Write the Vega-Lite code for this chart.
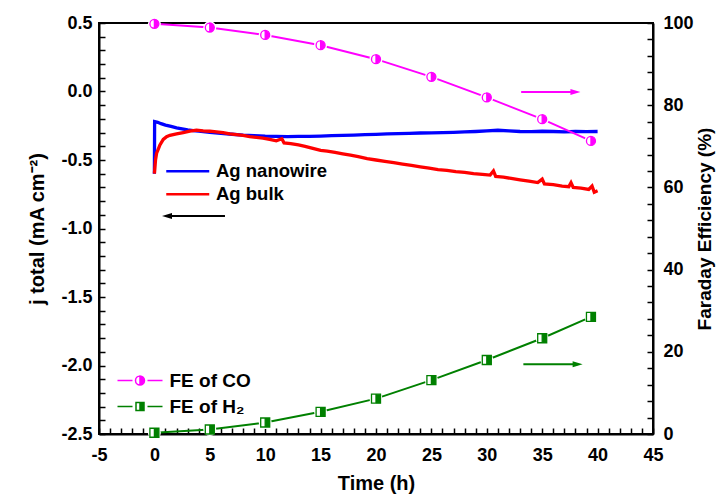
{
  "$schema": "https://vega.github.io/schema/vega-lite/v6.json",
  "width": 554,
  "height": 411,
  "autosize": "none",
  "padding": {"left": 99, "top": 23, "right": 63, "bottom": 62},
  "background": "white",
  "datasets": {
    "current": [
      {"t": 0, "j": -0.6, "series": "Ag nanowire"},
      {"t": 0.02, "j": -0.22, "series": "Ag nanowire"},
      {"t": 0.3, "j": -0.225, "series": "Ag nanowire"},
      {"t": 0.6, "j": -0.235, "series": "Ag nanowire"},
      {"t": 1, "j": -0.245, "series": "Ag nanowire"},
      {"t": 1.5, "j": -0.255, "series": "Ag nanowire"},
      {"t": 2, "j": -0.265, "series": "Ag nanowire"},
      {"t": 2.5, "j": -0.272, "series": "Ag nanowire"},
      {"t": 3, "j": -0.28, "series": "Ag nanowire"},
      {"t": 3.5, "j": -0.285, "series": "Ag nanowire"},
      {"t": 4, "j": -0.29, "series": "Ag nanowire"},
      {"t": 5, "j": -0.298, "series": "Ag nanowire"},
      {"t": 6, "j": -0.305, "series": "Ag nanowire"},
      {"t": 7, "j": -0.312, "series": "Ag nanowire"},
      {"t": 8, "j": -0.318, "series": "Ag nanowire"},
      {"t": 9, "j": -0.322, "series": "Ag nanowire"},
      {"t": 10, "j": -0.326, "series": "Ag nanowire"},
      {"t": 11, "j": -0.328, "series": "Ag nanowire"},
      {"t": 12, "j": -0.33, "series": "Ag nanowire"},
      {"t": 13, "j": -0.328, "series": "Ag nanowire"},
      {"t": 14, "j": -0.327, "series": "Ag nanowire"},
      {"t": 15, "j": -0.325, "series": "Ag nanowire"},
      {"t": 16, "j": -0.322, "series": "Ag nanowire"},
      {"t": 17, "j": -0.32, "series": "Ag nanowire"},
      {"t": 18, "j": -0.318, "series": "Ag nanowire"},
      {"t": 19, "j": -0.315, "series": "Ag nanowire"},
      {"t": 20, "j": -0.313, "series": "Ag nanowire"},
      {"t": 21, "j": -0.31, "series": "Ag nanowire"},
      {"t": 22, "j": -0.308, "series": "Ag nanowire"},
      {"t": 23, "j": -0.305, "series": "Ag nanowire"},
      {"t": 24, "j": -0.303, "series": "Ag nanowire"},
      {"t": 25, "j": -0.302, "series": "Ag nanowire"},
      {"t": 26, "j": -0.3, "series": "Ag nanowire"},
      {"t": 27, "j": -0.298, "series": "Ag nanowire"},
      {"t": 28, "j": -0.295, "series": "Ag nanowire"},
      {"t": 29, "j": -0.292, "series": "Ag nanowire"},
      {"t": 30, "j": -0.288, "series": "Ag nanowire"},
      {"t": 31, "j": -0.283, "series": "Ag nanowire"},
      {"t": 32, "j": -0.287, "series": "Ag nanowire"},
      {"t": 33, "j": -0.292, "series": "Ag nanowire"},
      {"t": 34, "j": -0.293, "series": "Ag nanowire"},
      {"t": 35, "j": -0.29, "series": "Ag nanowire"},
      {"t": 36, "j": -0.292, "series": "Ag nanowire"},
      {"t": 37, "j": -0.294, "series": "Ag nanowire"},
      {"t": 38, "j": -0.292, "series": "Ag nanowire"},
      {"t": 39, "j": -0.293, "series": "Ag nanowire"},
      {"t": 40, "j": -0.292, "series": "Ag nanowire"},
      {"t": 0, "j": -0.6, "series": "Ag bulk"},
      {"t": 0.1, "j": -0.5, "series": "Ag bulk"},
      {"t": 0.2, "j": -0.45, "series": "Ag bulk"},
      {"t": 0.35, "j": -0.42, "series": "Ag bulk"},
      {"t": 0.5, "j": -0.39, "series": "Ag bulk"},
      {"t": 0.8, "j": -0.35, "series": "Ag bulk"},
      {"t": 1.1, "j": -0.33, "series": "Ag bulk"},
      {"t": 1.4, "j": -0.32, "series": "Ag bulk"},
      {"t": 2, "j": -0.31, "series": "Ag bulk"},
      {"t": 2.6, "j": -0.3, "series": "Ag bulk"},
      {"t": 3.2, "j": -0.29, "series": "Ag bulk"},
      {"t": 3.8, "j": -0.282, "series": "Ag bulk"},
      {"t": 4.4, "j": -0.288, "series": "Ag bulk"},
      {"t": 5, "j": -0.29, "series": "Ag bulk"},
      {"t": 5.6, "j": -0.295, "series": "Ag bulk"},
      {"t": 6.2, "j": -0.3, "series": "Ag bulk"},
      {"t": 6.8, "j": -0.31, "series": "Ag bulk"},
      {"t": 7.4, "j": -0.315, "series": "Ag bulk"},
      {"t": 8, "j": -0.32, "series": "Ag bulk"},
      {"t": 8.6, "j": -0.33, "series": "Ag bulk"},
      {"t": 9.2, "j": -0.335, "series": "Ag bulk"},
      {"t": 9.8, "j": -0.34, "series": "Ag bulk"},
      {"t": 10.4, "j": -0.35, "series": "Ag bulk"},
      {"t": 11, "j": -0.36, "series": "Ag bulk"},
      {"t": 11.5, "j": -0.345, "series": "Ag bulk"},
      {"t": 11.7, "j": -0.375, "series": "Ag bulk"},
      {"t": 12.3, "j": -0.38, "series": "Ag bulk"},
      {"t": 13, "j": -0.39, "series": "Ag bulk"},
      {"t": 13.6, "j": -0.4, "series": "Ag bulk"},
      {"t": 14.3, "j": -0.415, "series": "Ag bulk"},
      {"t": 15, "j": -0.43, "series": "Ag bulk"},
      {"t": 15.6, "j": -0.435, "series": "Ag bulk"},
      {"t": 16.3, "j": -0.445, "series": "Ag bulk"},
      {"t": 17, "j": -0.455, "series": "Ag bulk"},
      {"t": 17.7, "j": -0.465, "series": "Ag bulk"},
      {"t": 18.4, "j": -0.475, "series": "Ag bulk"},
      {"t": 19.2, "j": -0.49, "series": "Ag bulk"},
      {"t": 20, "j": -0.5, "series": "Ag bulk"},
      {"t": 20.8, "j": -0.51, "series": "Ag bulk"},
      {"t": 21.6, "j": -0.52, "series": "Ag bulk"},
      {"t": 22.4, "j": -0.53, "series": "Ag bulk"},
      {"t": 23.2, "j": -0.54, "series": "Ag bulk"},
      {"t": 24, "j": -0.55, "series": "Ag bulk"},
      {"t": 24.8, "j": -0.56, "series": "Ag bulk"},
      {"t": 25.6, "j": -0.57, "series": "Ag bulk"},
      {"t": 26.4, "j": -0.575, "series": "Ag bulk"},
      {"t": 27.2, "j": -0.585, "series": "Ag bulk"},
      {"t": 28, "j": -0.59, "series": "Ag bulk"},
      {"t": 28.8, "j": -0.6, "series": "Ag bulk"},
      {"t": 29.6, "j": -0.605, "series": "Ag bulk"},
      {"t": 30.3, "j": -0.61, "series": "Ag bulk"},
      {"t": 30.6, "j": -0.58, "series": "Ag bulk"},
      {"t": 30.8, "j": -0.62, "series": "Ag bulk"},
      {"t": 31.5, "j": -0.625, "series": "Ag bulk"},
      {"t": 32.2, "j": -0.635, "series": "Ag bulk"},
      {"t": 33, "j": -0.645, "series": "Ag bulk"},
      {"t": 33.8, "j": -0.655, "series": "Ag bulk"},
      {"t": 34.6, "j": -0.665, "series": "Ag bulk"},
      {"t": 35, "j": -0.64, "series": "Ag bulk"},
      {"t": 35.2, "j": -0.675, "series": "Ag bulk"},
      {"t": 36, "j": -0.68, "series": "Ag bulk"},
      {"t": 36.8, "j": -0.69, "series": "Ag bulk"},
      {"t": 37.4, "j": -0.695, "series": "Ag bulk"},
      {"t": 37.6, "j": -0.665, "series": "Ag bulk"},
      {"t": 37.8, "j": -0.7, "series": "Ag bulk"},
      {"t": 38.5, "j": -0.705, "series": "Ag bulk"},
      {"t": 39.2, "j": -0.715, "series": "Ag bulk"},
      {"t": 39.5, "j": -0.69, "series": "Ag bulk"},
      {"t": 39.7, "j": -0.735, "series": "Ag bulk"},
      {"t": 40, "j": -0.725, "series": "Ag bulk"}
    ],
    "fe": [
      {"t": 0, "fe": 99.8, "series": "FE of CO"},
      {"t": 5, "fe": 98.9, "series": "FE of CO"},
      {"t": 10, "fe": 97.1, "series": "FE of CO"},
      {"t": 15, "fe": 94.6, "series": "FE of CO"},
      {"t": 20, "fe": 91.2, "series": "FE of CO"},
      {"t": 25, "fe": 86.9, "series": "FE of CO"},
      {"t": 30, "fe": 81.9, "series": "FE of CO"},
      {"t": 35, "fe": 76.6, "series": "FE of CO"},
      {"t": 39.4, "fe": 71.3, "series": "FE of CO"},
      {"t": 0, "fe": 0.3, "series": "FE of H₂"},
      {"t": 5, "fe": 1.1, "series": "FE of H₂"},
      {"t": 10, "fe": 2.8, "series": "FE of H₂"},
      {"t": 15, "fe": 5.4, "series": "FE of H₂"},
      {"t": 20, "fe": 8.6, "series": "FE of H₂"},
      {"t": 25, "fe": 13.1, "series": "FE of H₂"},
      {"t": 30, "fe": 18.0, "series": "FE of H₂"},
      {"t": 35, "fe": 23.3, "series": "FE of H₂"},
      {"t": 39.4, "fe": 28.5, "series": "FE of H₂"}
    ],
    "arrowJ": [{"t": 1.1, "t2": 6.37, "j": -0.909}],
    "headJ": [{"t": 1.14, "j": -0.909}],
    "arrowFE": [
      {"t": 33.1, "t2": 38.0, "fe": 83.2, "series": "FE of CO"},
      {"t": 33.3, "t2": 38.2, "fe": 17.0, "series": "FE of H₂"}
    ],
    "headFE": [
      {"t": 38.0, "fe": 83.2, "series": "FE of CO"},
      {"t": 38.2, "fe": 17.0, "series": "FE of H₂"}
    ]
  },
  "encoding": {
    "x": {
      "field": "t",
      "type": "quantitative",
      "scale": {"domain": [-5, 45], "nice": false, "zero": false},
      "axis": {
        "title": "Time (h)",
        "values": [-5,-4,-3,-2,-1,0,1,2,3,4,5,6,7,8,9,10,11,12,13,14,15,16,17,18,19,20,21,22,23,24,25,26,27,28,29,30,31,32,33,34,35,36,37,38,39,40,41,42,43,44,45],
        "tickCount": 200,
        "format": "d",
        "tickSize": -6,
        "labelExpr": "datum.value % 5 == 0 ? replace(datum.label, '−', '-') : ''",
        "labelFontSize": {"condition": {"test": "datum.value % 5 == 0", "value": 18}, "value": 0},
        "labelPadding": 18,
        "labelFlush": false,
        "labelOverlap": false,
        "titleFontSize": 20,
        "titlePadding": 9
      }
    }
  },
  "layer": [
    {
      "layer": [
        {
          "data": {"name": "current"},
          "mark": {"type": "line", "strokeWidth": 3.3},
          "encoding": {
            "y": {
              "field": "j",
              "type": "quantitative",
              "scale": {"domain": [-2.5, 0.5], "nice": false, "zero": false},
              "axis": {
                "title": "j total (mA cm⁻²)",
                "titleFontSize": 20,
                "values": [-2.5,-2.4,-2.3,-2.2,-2.1,-2.0,-1.9,-1.8,-1.7,-1.6,-1.5,-1.4,-1.3,-1.2,-1.1,-1.0,-0.9,-0.8,-0.7,-0.6,-0.5,-0.4,-0.3,-0.2,-0.1,0,0.1,0.2,0.3,0.4,0.5],
                "tickCount": 200,
                "format": ".1f",
                "tickSize": -6,
                "labelExpr": "abs(round(datum.value * 10)) % 5 == 0 ? replace(datum.label, '−', '-') : ''",
                "labelFontSize": {"condition": {"test": "abs(round(datum.value * 10)) % 5 == 0", "value": 18}, "value": 0},
                "labelPadding": 13,
                "labelFlush": false,
                "labelOverlap": false,
                "titlePadding": 13
              }
            },
            "color": {
              "field": "series",
              "type": "nominal",
              "scale": {"domain": ["Ag nanowire", "Ag bulk"], "range": ["#0000ff", "#ff0000"]},
              "legend": {
                "orient": "none",
                "legendX": 79.5,
                "legendY": 139,
                "title": null,
                "symbolType": "M-4.3,0H4.3",
                "symbolSize": 100,
                "symbolStrokeWidth": 2.5,
                "labelFontSize": 18.5,
                "labelFont": "Liberation Sans",
                "labelFontWeight": "bold",
                "labelColor": "black",
                "labelOffset": 19,
                "rowPadding": 4
              }
            }
          }
        },
        {
          "data": {"name": "arrowJ"},
          "mark": {"type": "rule", "color": "black", "strokeWidth": 2},
          "encoding": {
            "x2": {"field": "t2"},
            "y": {"field": "j", "type": "quantitative"}
          }
        },
        {
          "data": {"name": "headJ"},
          "mark": {"type": "point", "shape": "M-1,0L1,-0.6L1,0.6Z", "size": 100, "filled": true, "color": "black", "opacity": 1},
          "encoding": {
            "y": {"field": "j", "type": "quantitative"}
          }
        }
      ]
    },
    {
      "layer": [
        {
          "data": {"name": "fe"},
          "mark": {"type": "line", "strokeWidth": 2},
          "encoding": {
            "y": {
              "field": "fe",
              "type": "quantitative",
              "scale": {"domain": [0, 100], "nice": false},
              "axis": {
                "orient": "right",
                "title": "Faraday Efficiency (%)",
                "titleAngle": 270,
                "titleBaseline": "top",
                "titleFontSize": 19,
                "values": [0,4,8,12,16,20,24,28,32,36,40,44,48,52,56,60,64,68,72,76,80,84,88,92,96,100],
                "tickCount": 200,
                "format": "d",
                "tickSize": -6,
                "labelExpr": "datum.value % 20 == 0 ? datum.label : ''",
                "labelFontSize": {"condition": {"test": "datum.value % 20 == 0", "value": 18}, "value": 0},
                "labelPadding": 16,
                "labelFlush": false,
                "labelOverlap": false,
                "titlePadding": 2
              }
            },
            "color": {
              "field": "series",
              "type": "nominal",
              "scale": {"domain": ["FE of CO", "FE of H₂"], "range": ["#ff00ff", "#008000"]},
              "legend": {
                "orient": "none",
                "legendX": 31.5,
                "legendY": 348,
                "title": null,
                "symbolSize": 100,
                "symbolStrokeWidth": 1.5,
                "labelFontSize": 19,
                "labelFont": "Liberation Sans",
                "labelFontWeight": "bold",
                "labelColor": "black",
                "labelOffset": 20,
                "rowPadding": 6,
                "encode": {
                  "symbols": {
                    "update": {
                      "shape": {"signal": "datum.value == 'FE of CO' ? 'M-4.5,0H-1.5M1.5,0H4.5M0,-0.9A0.9,0.9 0 0,1 0,0.9ZM0,-0.9A0.9,0.9 0 0,0 0,0.9A0.9,0.9 0 0,1 0,-0.9' : 'M-4.5,0H-1.5M1.5,0H4.5M0,-0.8H0.8V0.8H0ZM0,-0.8H-0.8V0.8H0H-0.8V-0.8H0'"},
                      "fill": {"signal": "datum.value == 'FE of CO' ? '#ff00ff' : '#008000'"},
                      "stroke": {"signal": "datum.value == 'FE of CO' ? '#ff00ff' : '#008000'"},
                      "opacity": {"value": 1}
                    }
                  }
                }
              }
            }
          }
        },
        {
          "data": {"name": "fe"},
          "mark": {"type": "point", "shape": "circle", "size": 169, "filled": true, "color": "white", "opacity": 1},
          "encoding": {
            "y": {"field": "fe", "type": "quantitative"}
          }
        },
        {
          "data": {"name": "fe"},
          "mark": {"type": "point", "size": 81, "strokeWidth": 1.3, "opacity": 1},
          "encoding": {
            "y": {"field": "fe", "type": "quantitative"},
            "shape": {"condition": {"test": "datum.series == 'FE of CO'", "value": "M0,-1A1,1 0 0,1 0,1ZM0,-1A1,1 0 0,0 0,1A1,1 0 0,1 0,-1"}, "value": "M0,-1H1V1H0ZM0,-1H-1V1H0H-1V-1H0"},
            "fill": {"condition": {"test": "datum.series == 'FE of CO'", "value": "#ff00ff"}, "value": "#008000"},
            "stroke": {"condition": {"test": "datum.series == 'FE of CO'", "value": "#ff00ff"}, "value": "#008000"}
          }
        },
        {
          "data": {"name": "arrowFE"},
          "mark": {"type": "rule", "strokeWidth": 2},
          "encoding": {
            "x2": {"field": "t2"},
            "y": {"field": "fe", "type": "quantitative"},
            "color": {"condition": {"test": "datum.series == 'FE of CO'", "value": "#ff00ff"}, "value": "#008000"}
          }
        },
        {
          "data": {"name": "headFE"},
          "mark": {"type": "point", "shape": "M1,0L-1,-0.6L-1,0.6Z", "size": 100, "filled": true, "opacity": 1},
          "encoding": {
            "y": {"field": "fe", "type": "quantitative"},
            "color": {"condition": {"test": "datum.series == 'FE of CO'", "value": "#ff00ff"}, "value": "#008000"}
          }
        }
      ]
    }
  ],
  "resolve": {"scale": {"y": "independent", "color": "independent"}},
  "config": {
    "view": {"stroke": "black", "strokeWidth": 2},
    "axis": {
      "grid": false,
      "domainColor": "black",
      "domainWidth": 2,
      "tickColor": "black",
      "tickWidth": 1.5,
      "labelFont": "Liberation Sans",
      "labelFontSize": 18,
      "labelFontWeight": "bold",
      "labelColor": "black",
      "titleFont": "Liberation Sans",
      "titleFontSize": 20,
      "titleFontWeight": "bold",
      "titleColor": "black"
    }
  }
}
